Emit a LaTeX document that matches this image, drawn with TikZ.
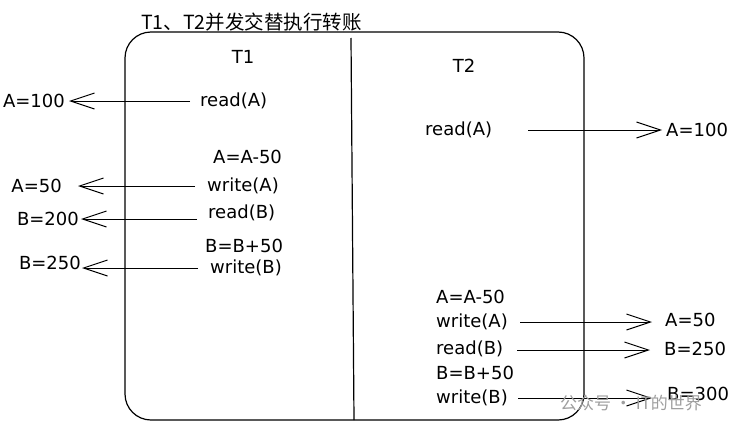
\documentclass[tikz,border=0pt]{standalone}
\usepackage{fontspec}
\setmainfont{DejaVu Sans}
\newfontfamily\cjk{Noto Sans CJK SC}
\usetikzlibrary{arrows.meta}
\begin{document}
\begin{tikzpicture}[x=1pt,y=-1pt,
  lbl/.style={font=\fontsize{18}{20}\selectfont, inner sep=2pt, anchor=west},
  vall/.style={font=\fontsize{18}{20}\selectfont, inner sep=2pt, anchor=east},
  arr/.style={line width=1pt, -{Straight Barb[length=24pt,width=16pt,line width=1pt]}},
  frame/.style={line width=1.2pt, rounded corners=26pt},
  wm/.style={font=\cjk\fontsize{17}{19}\selectfont, text=black!38, anchor=west, inner sep=0pt}]
\useasboundingbox (0,0) rectangle (747,431);
% frame and divider
\draw[frame] (125,32) rectangle (584,420);
\coordinate (dtop) at (351,38);
\coordinate (dbot) at (354,420);
\draw[line width=1.2pt] (dtop) -- (dbot);
\node[font=\cjk\fontsize{19.5}{21}\selectfont, anchor=base west, inner sep=0pt] (title) at (141,29) {T1、T2并发交替执行转账};
% headers
\node[lbl, anchor=center] (t1) at (243,57) {T1};
\node[lbl, anchor=center] (t2) at (464,66) {T2};
% T1 operations
\node[lbl] (r1a) at (198,101) {read(A)};
\node[lbl] (c1a) at (211,157) {A=A-50};
\node[lbl] (w1a) at (205,186) {write(A)};
\node[lbl] (r1b) at (206,213) {read(B)};
\node[lbl] (c1b) at (203,246) {B=B+50};
\node[lbl] (w1b) at (208,268) {write(B)};
% T1 values
\node[vall] (v1) at (67,101) {A=100};
\node[vall] (v2) at (64,186) {A=50};
\node[vall] (v3) at (81,219) {B=200};
\node[vall] (v4) at (83,263) {B=250};
% T1 arrows
\draw[arr, shorten <=8pt, shorten >=2pt] (r1a.west) -- (v1.east);
\draw[arr, shorten <=10pt, shorten >=14pt] (w1a.west) -- (v2.east);
\draw[arr, shorten <=9pt, shorten >=0pt] (r1b.west |- v3.east) -- (v3.east);
\draw[arr, shorten <=10pt, shorten >=-1pt] (w1b.west) -- (v4.east |- w1b.west);
% T2 operations
\node[lbl] (r2a) at (423,130) {read(A)};
\node[lbl] (c2a) at (434,297) {A=A-50};
\node[lbl] (w2a) at (434,322) {write(A)};
\node[lbl] (r2b) at (434,349) {read(B)};
\node[lbl] (c2b) at (434,373) {B=B+50};
\node[lbl] (w2b) at (434,398) {write(B)};
% T2 values
\node[lbl] (v5) at (664,130) {A=100};
\node[lbl] (v6) at (663,320) {A=50};
\node[lbl] (v7) at (662,349) {B=250};
\node[lbl] (v8) at (665,394) {B=300};
% T2 arrows
\draw[arr, shorten <=34pt, shorten >=2pt] (r2a.east) -- (v5.west);
\draw[arr, shorten <=10pt, shorten >=11pt] (w2a.east |- 0,322) -- (v6.west |- 0,322);
\draw[arr, shorten <=12pt, shorten >=12pt] (r2b.east |- 0,350) -- (v7.west |- 0,350);
\draw[arr, shorten <=8pt, shorten >=13pt] (w2b.east) -- (v8.west |- w2b.east);
% watermark
\node[wm] (wmark) at (560,403) {公众号 · IT的世界};
\end{tikzpicture}
\end{document}
